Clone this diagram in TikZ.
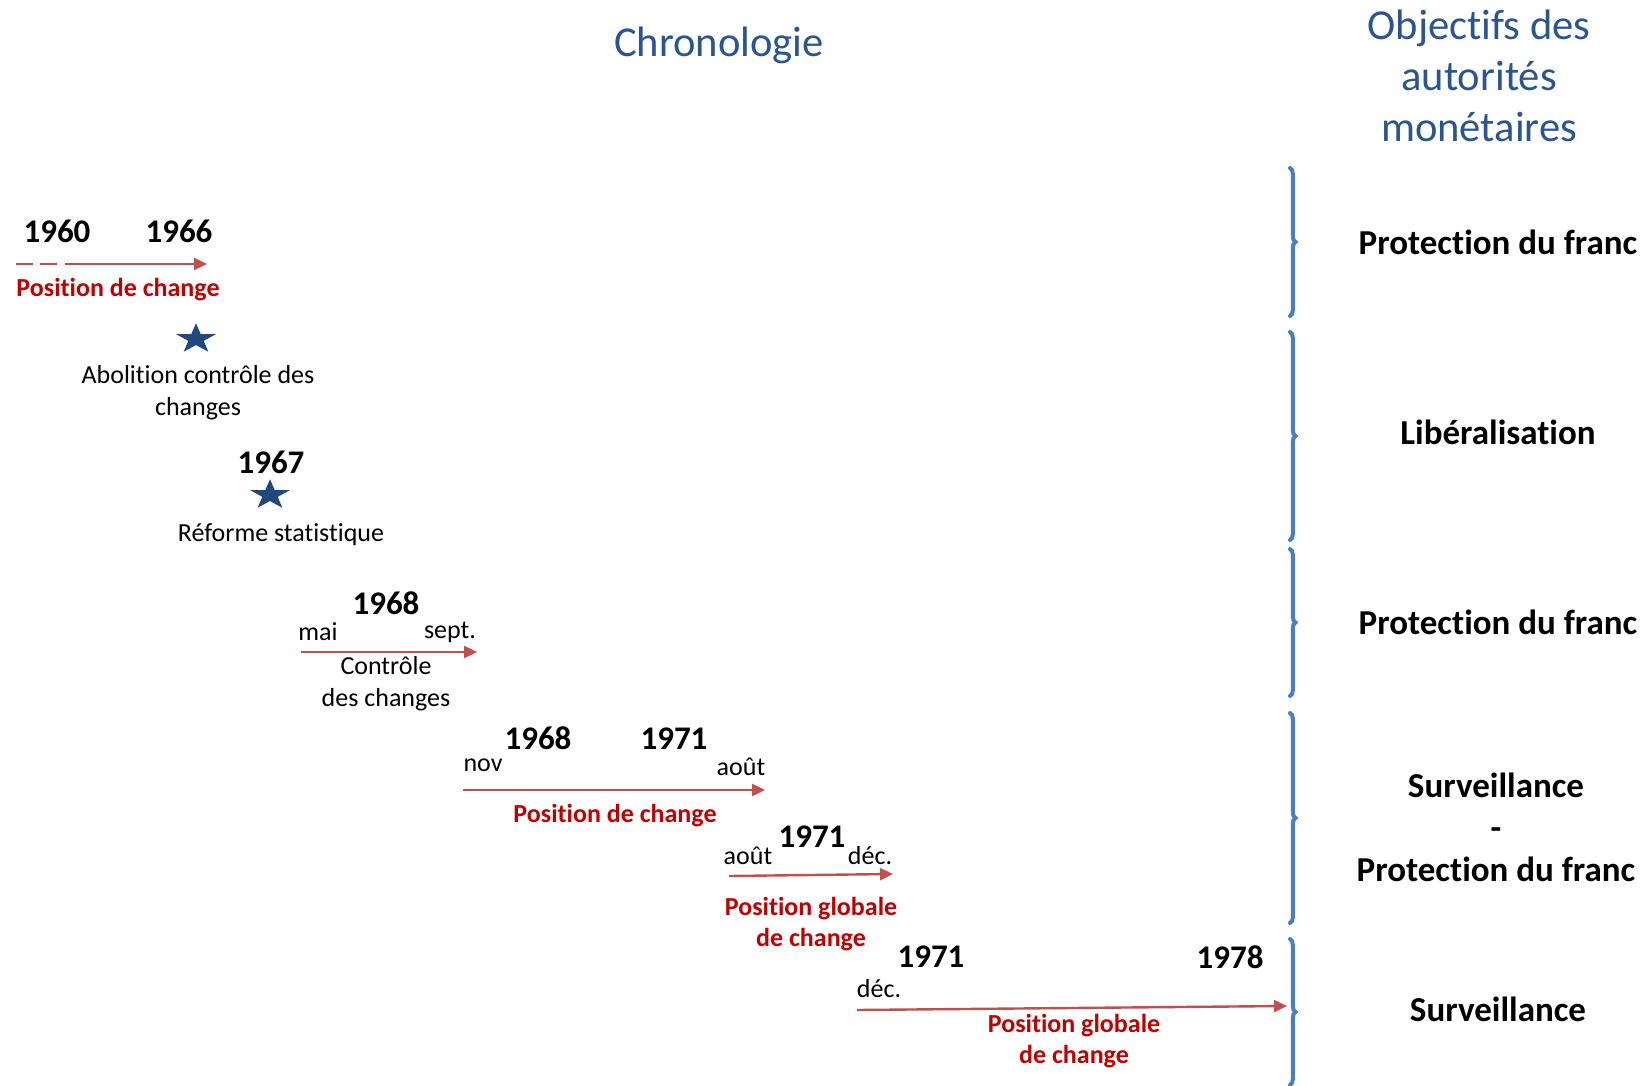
\documentclass[tikz,border=0pt]{standalone}
\usepackage{fontspec}
\setmainfont{Carlito}[Ligatures=CommonOff]
\usetikzlibrary{arrows.meta,shapes.geometric,decorations.pathreplacing}

\definecolor{titleblue}{HTML}{2A5590}
\definecolor{braceblue}{HTML}{4A7EC1}
\definecolor{starblue}{HTML}{1F497D}
\definecolor{barred}{HTML}{C0504D}
\definecolor{labelred}{HTML}{C00000}

\begin{document}
\begin{tikzpicture}[x=0.5pt, y=-0.5pt,
  every node/.style = {
    inner sep = 0,
    outer sep = 0,
  },
  heading/.style = {font=\fontsize{21.3}{25.5}\selectfont, text=titleblue, align=center},
  goal/.style = {font=\fontsize{17.5}{21}\selectfont\bfseries, align=center},
  year/.style = {font=\fontsize{16.5}{20}\selectfont\bfseries},
  note/.style = {font=\fontsize{13}{15.8}\selectfont, align=center, yshift=-1.5pt},
  redlabel/.style = {note, font=\fontsize{13}{15.8}\selectfont\bfseries, text=labelred},
  timebar/.style = {draw=barred, line width=1.2pt, -{Triangle[length=6.5pt, width=6pt]}},
  starmark/.style = {star, star points=5, star point ratio=2.6, fill=starblue,
    minimum size=21pt, yscale=0.75, transform shape},
  period/.style = {draw=braceblue, line width=2pt, line cap=round,
    decorate, decoration={brace, amplitude=2.8pt}},
]
\useasboundingbox (0,0) rectangle (1651,1086);

% headings
\node[heading] (chrono) at (719,45) {Chronologie};
\node[heading] (goals) at (1479,76) {Objectifs des\\autorités\\monétaires};

% periods on the right
\foreach \top/\bot [count=\i] in {168/316, 332/540, 549/696, 713/923, 939/1085} {
  \coordinate (p\i a) at (1290,\top);
  \coordinate (p\i b) at (1290,\bot);
  \draw[period] (p\i a) -- (p\i b);
}
\node[goal] (goal1) at (1498,242) {Protection du franc};
\node[goal] (goal2) at (1498,432) {Libéralisation};
\node[goal] (goal3) at (1498,622) {Protection du franc};
\node[goal] (goal4) at (1496,827) {Surveillance\\-\\Protection du franc};
\node[goal] (goal5) at (1498,1009) {Surveillance};

% 1960 - 1966
\node[year] (y1960) at (57,231) {1960};
\node[year] (y1966) at (179,231) {1966};
\coordinate (bar1s) at (16,264);
\coordinate (bar1e) at (207,264);
\draw[timebar, dash pattern=on 8.5pt off 3.5pt on 8.5pt off 4pt on 200pt] (bar1s) -- (bar1e);
\node[redlabel] (pos1) at (118,287) {Position de change};

% 1966
\node[starmark] (star1) at (196,339) {};
\node[note] (abolition) at (198,390) {Abolition contrôle des\\changes};

% 1967
\node[year] (y1967) at (271,462) {1967};
\node[starmark] (star2) at (270,495) {};
\node[note] (reforme) at (281,532) {Réforme statistique};

% 1968, mai - sept.
\node[year] (y1968a) at (386,603) {1968};
\node[note] (mai) at (318,629) {mai};
\node[note] (sept) at (450,629) {sept.};
\coordinate (bar2s) at (301,652);
\coordinate (bar2e) at (477,652);
\draw[timebar] (bar2s) -- (bar2e);
\node[note] (controle) at (386,681) {Contrôle\\des changes};

% nov 1968 - août 1971
\node[note] (nov) at (483,762) {nov};
\node[year] (y1968b) at (538,738) {1968};
\node[year] (y1971a) at (674,739) {1971};
\node[note] (aout1) at (741,764) {août};
\coordinate (bar3s) at (463,790);
\coordinate (bar3e) at (765,790);
\draw[timebar] (bar3s) -- (bar3e);
\node[redlabel] (pos2) at (615,813) {Position de change};

% août - déc. 1971
\node[note] (aout2) at (748,853) {août};
\node[year] (y1971b) at (812,837) {1971};
\node[note] (dec1) at (870,853) {déc.};
\coordinate (bar4s) at (729,876);
\coordinate (bar4e) at (893,874);
\draw[timebar] (bar4s) -- (bar4e);
\node[redlabel] (pos3) at (811,921) {Position globale\\de change};

% déc. 1971 - 1978
\node[note] (dec2) at (879,986) {déc.};
\node[year] (y1971c) at (931,957) {1971};
\node[year] (y1978) at (1230,957) {1978};
\coordinate (bar5s) at (857,1010);
\coordinate (bar5e) at (1287,1006);
\draw[timebar] (bar5s) -- (bar5e);
\node[redlabel] (pos4) at (1074,1038) {Position globale\\de change};
\end{tikzpicture}
\end{document}
